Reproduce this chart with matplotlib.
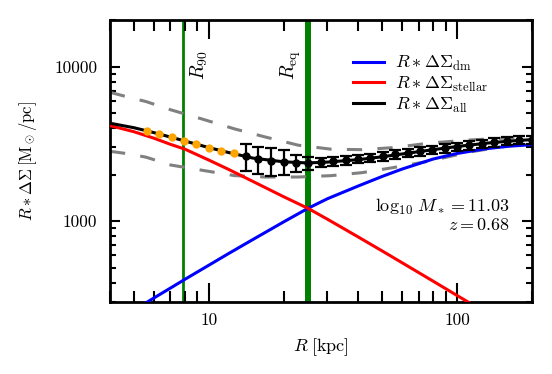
import numpy as np
import matplotlib
matplotlib.use('Agg')
import matplotlib.pyplot as plt
from matplotlib.ticker import FixedLocator, FixedFormatter, NullFormatter

plt.rcParams['font.family'] = ['cmr10', 'DejaVu Serif']
plt.rcParams['mathtext.fontset'] = 'cm'
plt.rcParams['axes.formatter.use_mathtext'] = True

# model curves (kpc, Msun/pc)
r_model = [4, 5, 6, 7, 8, 10, 12, 15, 20, 25, 30, 40, 50, 60, 80, 100, 130, 160, 200]
dm = [214, 266, 318, 369, 420, 519, 617, 759, 989, 1208, 1396, 1690, 1950, 2173, 2523, 2742, 2938, 3048, 3126]
stellar = [4150, 3785, 3443, 3141, 2924, 2483, 2163, 1811, 1439, 1213, 1030, 789, 640, 538, 409, 330, 257, 211, 171]
total = [4300, 4020, 3740, 3500, 3300, 2990, 2780, 2560, 2420, 2380, 2410, 2500, 2610, 2720, 2900, 3040, 3190, 3290, 3370]

# envelope (grey dashed)
r_env = [4, 4.8, 5.6, 7.0, 9.3, 12.7, 16.9, 22.9, 31.1, 41.4, 55.2, 77.6, 112, 200]
env_hi = [6810, 6310, 5930, 5260, 4600, 3950, 3500, 3100, 2920, 2900, 2990, 3200, 3350, 3520]
env_lo = [2830, 2720, 2590, 2310, 2140, 1970, 1930, 1930, 1970, 2060, 2220, 2450, 2800, 3250]

# orange points (inner, no errors)
r_inner = [5.62, 6.31, 7.08, 7.94, 8.91, 10.0, 11.2, 12.6]
y_inner = [3845, 3655, 3484, 3297, 3156, 2986, 2851, 2748]

# black points with errors
r_data = [14.1, 15.8, 17.8, 20.0, 22.4, 25.1, 28.2, 31.6, 35.5, 39.8, 44.7, 50.1, 56.2, 63.1,
          70.8, 79.4, 89.1, 100, 112, 126, 141, 158, 178, 200]
y_data = [2636, 2523, 2460, 2427, 2388, 2366, 2399, 2432, 2472, 2518, 2570, 2624, 2704, 2767,
          2831, 2897, 2958, 3027, 3090, 3162, 3236, 3289, 3342, 3373]
y_err = [530, 500, 500, 450, 310, 230, 150, 150, 150, 150, 160, 160, 170, 170,
         180, 180, 190, 190, 190, 200, 200, 200, 200, 200]

r90 = 7.9
req = 25.0

fig = plt.figure(figsize=(5.52, 3.74), dpi=100)
ax = fig.add_axes([0.1993, 0.1925, 0.7645, 0.754])

ax.axvline(r90, color='green', lw=2.0, zorder=1)
ax.axvline(req, color='green', lw=4.3, zorder=1)

ax.plot(r_env, env_hi, color='grey', lw=2.2, dashes=[5, 5], zorder=2)
ax.plot(r_env, env_lo, color='grey', lw=2.2, dashes=[5, 5], zorder=2)

ax.plot(r_model, dm, color='blue', lw=2.2, label=r'$R \ast \Delta\Sigma_{\rm dm}$', zorder=3)
ax.plot(r_model, stellar, color='red', lw=2.2, label=r'$R \ast \Delta\Sigma_{\rm stellar}$', zorder=3)
ax.plot(r_model, total, color='black', lw=2.2, label=r'$R \ast \Delta\Sigma_{\rm all}$', zorder=3)

ax.plot(r_inner, y_inner, 'o', color='orange', ms=6, mec='none', zorder=4)
ax.errorbar(r_data, y_data, yerr=y_err, fmt='o', color='black', ms=5, elinewidth=1.6,
            capsize=4.5, capthick=1.6, zorder=4)

ax.set_xscale('log')
ax.set_yscale('log')
ax.set_xlim(4, 200)
ax.set_ylim(300, 20000)

ax.xaxis.set_major_locator(FixedLocator([10, 100]))
ax.xaxis.set_major_formatter(FixedFormatter(['10', '100']))
ax.xaxis.set_minor_formatter(NullFormatter())
ax.yaxis.set_major_locator(FixedLocator([1000, 10000]))
ax.yaxis.set_major_formatter(FixedFormatter(['1000', '10000']))
ax.yaxis.set_minor_formatter(NullFormatter())

for s in ax.spines.values():
    s.set_linewidth(2.0)
ax.tick_params(which='both', direction='in', top=True, right=True, width=1.5, labelsize=12.5)
ax.tick_params(axis='x', which='major', length=14, pad=8)
ax.tick_params(axis='x', which='minor', length=7.7)
ax.tick_params(axis='y', which='major', length=7.5, pad=9)
ax.tick_params(axis='y', which='minor', length=4.3)

ax.set_xlabel(r'$R\;[{\rm kpc}]$', fontsize=13, labelpad=6)
ax.set_ylabel(r'$R \ast \Delta\Sigma\,[{\rm M_\odot/pc}]$', fontsize=12, labelpad=11)

ax.text(r90 * 1.05, 0.787, r'$R_{90}$', transform=ax.get_xaxis_transform(), rotation=90,
        ha='left', va='bottom', fontsize=14)
ax.text(req * 0.955, 0.787, r'$R_{\rm eq}$', transform=ax.get_xaxis_transform(), rotation=90,
        ha='right', va='bottom', fontsize=14)

ax.text(0.948, 0.338, r'$\log_{10}\,M_* = 11.03$', transform=ax.transAxes, ha='right', va='center', fontsize=13)
ax.text(0.948, 0.273, r'$z = 0.68$', transform=ax.transAxes, ha='right', va='center', fontsize=13)

ax.legend(loc='upper left', bbox_to_anchor=(0.575, 0.88), frameon=False, fontsize=13,
          handlelength=1.75, labelspacing=0.1, handletextpad=0.6, borderaxespad=0, borderpad=0)

fig.savefig('out.png', dpi=100)
